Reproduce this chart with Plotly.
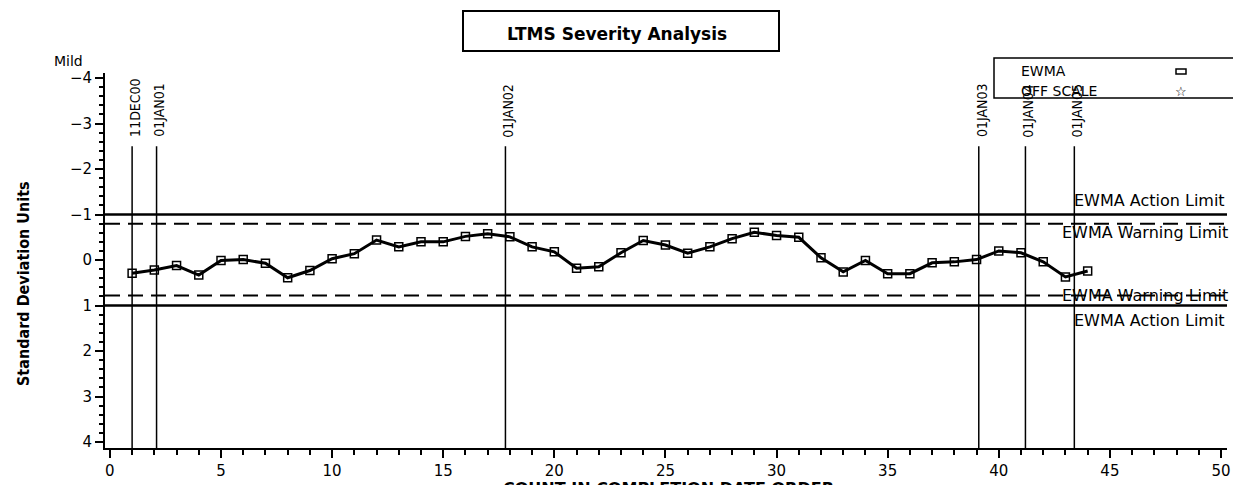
import plotly.graph_objects as go

# ---- data ----
count = list(range(1, 45))
ewma = [0.29, 0.22, 0.12, 0.33, 0.01, -0.01, 0.07, 0.39, 0.23, -0.03,
        -0.14, -0.44, -0.29, -0.40, -0.40, -0.52, -0.58, -0.51, -0.29, -0.18,
        0.18, 0.15, -0.16, -0.43, -0.33, -0.15, -0.29, -0.47, -0.61, -0.54,
        -0.50, -0.05, 0.26, 0.01, 0.30, 0.30, 0.06, 0.04, -0.01, -0.20,
        -0.16, 0.04, 0.37, 0.24]

date_labels = ["11DEC00", "01JAN01", "01JAN02", "01JAN03", "01JAN04", "01JAN05"]
date_positions = [1.0, 2.1, 17.8, 39.1, 41.2, 43.4]
date_line_top = -2.5

action_limits = [-1.0, 1.0]
warning_limits = [-0.8, 0.78]

y_tickvals = [-4, -3, -2, -1, 0, 1, 2, 3, 4]
y_ticktext = ["\u22124", "\u22123", "\u22122", "\u22121", "0", "1", "2", "3", "4"]

x_range = [-0.22, 50.27]
y_range = [4.13, -4.11]

# ---- pixel helpers (plot area) ----
W, H = 1241, 485
L, R, T, B = 97, 1219, 65, 440
def px(xp):
    return (xp - L) / (R - L)
def py(yp):
    return (B - yp) / (B - T)

fig = go.Figure()

# vertical date lines
vx, vy = [], []
for p in date_positions:
    vx += [p, p, None]
    vy += [date_line_top, y_range[0], None]
fig.add_trace(go.Scatter(x=vx, y=vy, mode="lines",
                         line=dict(color="black", width=1.5),
                         hoverinfo="skip", showlegend=False))

# EWMA series
fig.add_trace(go.Scatter(x=count, y=ewma, mode="lines+markers", name="EWMA",
                         line=dict(color="black", width=3),
                         marker=dict(symbol="square-open", size=8,
                                     color="black", line=dict(width=1.5)),
                         showlegend=False))
# OFF SCALE (no points)
fig.add_trace(go.Scatter(x=[], y=[], mode="markers", name="OFF SCALE",
                         marker=dict(symbol="star-open", color="black"),
                         showlegend=False))

shapes = []
for a in action_limits:
    shapes.append(dict(type="line", xref="paper", yref="y", x0=0, x1=1, y0=a, y1=a,
                       line=dict(color="black", width=2.5)))
for w in warning_limits:
    shapes.append(dict(type="line", xref="paper", yref="y", x0=0, x1=1, y0=w, y1=w,
                       line=dict(color="black", width=2, dash="15px,8px")))

# title box
shapes.append(dict(type="rect", xref="paper", yref="paper",
                   x0=px(455), x1=px(771), y0=py(43), y1=py(3),
                   line=dict(color="black", width=2)))
# legend box
shapes.append(dict(type="rect", xref="paper", yref="paper",
                   x0=px(986), x1=px(1237), y0=py(90), y1=py(50),
                   line=dict(color="black", width=1.5)))
# legend EWMA symbol
shapes.append(dict(type="rect", xref="paper", yref="paper",
                   x0=px(1168), x1=px(1178), y0=py(66), y1=py(61),
                   line=dict(color="black", width=1.5)))

lim_font = dict(family="DejaVu Sans", size=16, color="black")
ann = []
# date labels
for lab, p in zip(date_labels, date_positions):
    ann.append(dict(x=p, y=date_line_top, xref="x", yref="y", text=lab,
                    textangle=-90, showarrow=False, yanchor="bottom",
                    xanchor="center", yshift=7, xshift=3,
                    font=dict(family="Liberation Sans Narrow, DejaVu Sans Condensed, sans-serif",
                              size=14, color="black")))
# limit labels
ann.append(dict(x=1, y=action_limits[0], xref="paper", yref="y", text="EWMA Action Limit",
                showarrow=False, xanchor="right", yanchor="bottom", yshift=3, font=lim_font))
ann.append(dict(x=1.003, y=warning_limits[0], xref="paper", yref="y", text="EWMA Warning Limit",
                showarrow=False, xanchor="right", yanchor="top", yshift=3, font=lim_font))
ann.append(dict(x=1.003, y=warning_limits[1], xref="paper", yref="y", text="EWMA Warning Limit",
                showarrow=False, xanchor="right", yanchor="middle", font=lim_font))
ann.append(dict(x=1, y=action_limits[1], xref="paper", yref="y", text="EWMA Action Limit",
                showarrow=False, xanchor="right", yanchor="top", yshift=-3, font=lim_font))
# title
ann.append(dict(x=px(609), y=py(26), xref="paper", yref="paper",
                text="<b>LTMS Severity Analysis</b>", showarrow=False,
                xanchor="center", yanchor="middle",
                font=dict(family="DejaVu Sans", size=17, color="black")))
# legend texts
ann.append(dict(x=px(1011), y=py(63), xref="paper", yref="paper", text="EWMA",
                showarrow=False, xanchor="left", yanchor="middle",
                font=dict(family="DejaVu Sans", size=14, color="black")))
ann.append(dict(x=px(1011), y=py(83), xref="paper", yref="paper", text="OFF SCALE",
                showarrow=False, xanchor="left", yanchor="middle",
                font=dict(family="DejaVu Sans", size=14, color="black")))
ann.append(dict(x=px(1173), y=py(83), xref="paper", yref="paper", text="\u2606",
                showarrow=False, xanchor="center", yanchor="middle",
                font=dict(family="DejaVu Sans", size=13, color="black")))
# Mild
ann.append(dict(x=px(60), y=py(53), xref="paper", yref="paper", text="Mild",
                showarrow=False, xanchor="center", yanchor="middle",
                font=dict(family="DejaVu Sans", size=14, color="black")))
# y title
ann.append(dict(x=px(15), y=py(276), xref="paper", yref="paper",
                text="<b>Standard Deviation Units</b>", textangle=-90,
                showarrow=False, xanchor="center", yanchor="middle",
                font=dict(family="Liberation Sans Narrow, DejaVu Sans Condensed, sans-serif",
                          size=16, color="black")))
# x title
ann.append(dict(x=px(660), y=py(469), xref="paper", yref="paper",
                text="<b>COUNT IN COMPLETION DATE ORDER</b>",
                showarrow=False, xanchor="center", yanchor="top",
                font=dict(family="DejaVu Sans", size=16, color="black")))

tick_font = dict(family="DejaVu Sans", size=15, color="black")
fig.update_layout(
    width=W, height=H, autosize=False,
    margin=dict(l=L, r=W - R, t=T, b=H - B, pad=0),
    paper_bgcolor="white", plot_bgcolor="white",
    showlegend=False,
    shapes=shapes, annotations=ann,
    xaxis=dict(range=x_range, tick0=0, dtick=5, ticks="outside", ticklen=8,
               tickwidth=1.5, tickcolor="black", showline=True, linecolor="black",
               linewidth=2, showgrid=False, zeroline=False, tickfont=tick_font,
               minor=dict(dtick=1, tick0=0, ticks="outside", ticklen=5,
                          tickwidth=1.5, tickcolor="black", showgrid=False)),
    yaxis=dict(range=y_range, tickvals=y_tickvals, ticktext=y_ticktext,
               ticks="outside", ticklen=8, tickwidth=1.5, tickcolor="black",
               showline=True, linecolor="black", linewidth=2, showgrid=False,
               zeroline=False, tickfont=tick_font,
               minor=dict(dtick=0.2, tick0=0, ticks="outside", ticklen=4,
                          tickwidth=1.5, tickcolor="black", showgrid=False)),
)

fig.write_html("out.html")
